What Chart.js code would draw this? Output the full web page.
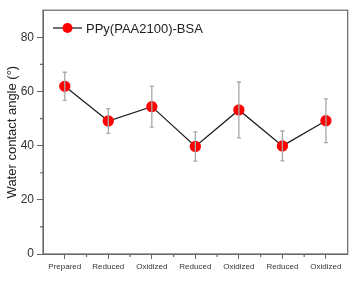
<!DOCTYPE html>
<html>
<head>
<meta charset="utf-8">
<script src="https://cdn.jsdelivr.net/npm/chart.js@4"></script>
<style>
  html, body { margin: 0; padding: 0; background: #fff; }
  #wrap { width: 354px; height: 281px; }
</style>
</head>
<body>
<div id="wrap"><canvas id="chart" width="354" height="281"></canvas></div>
<script>
const states = ['Prepared', 'Reduced', 'Oxidized', 'Reduced', 'Oxidized', 'Reduced', 'Oxidized'];
const angles = [61.9, 49.1, 54.4, 39.7, 53.2, 39.9, 49.2];
const errors = [5.2, 4.6, 7.6, 5.4, 10.3, 5.5, 8.1];
const seriesName = 'PPy(PAA2100)-BSA';
const yTicks = [0, 20, 40, 60, 80];

const FONT = '"Liberation Sans", Arial, sans-serif';

// error bars + frame + minor ticks + legend
const extras = {
    id: 'extras',
    afterDatasetsDraw(chart) {
        const ctx = chart.ctx;
        const x = chart.scales.x, y = chart.scales.y;
        ctx.save();
        ctx.strokeStyle = '#a8a8a8';
        ctx.lineWidth = 1.3;
        angles.forEach((v, i) => {
            const px = x.getPixelForValue(i);
            const top = y.getPixelForValue(v + errors[i]);
            const bot = y.getPixelForValue(v - errors[i]);
            ctx.beginPath();
            ctx.moveTo(px, top); ctx.lineTo(px, bot);
            ctx.moveTo(px - 2, top); ctx.lineTo(px + 2, top);
            ctx.moveTo(px - 2, bot); ctx.lineTo(px + 2, bot);
            ctx.stroke();
        });
        ctx.restore();
    },
    afterDraw(chart) {
        const ctx = chart.ctx;
        const a = chart.chartArea;
        const x = chart.scales.x, y = chart.scales.y;
        ctx.save();
        // frame
        ctx.strokeStyle = '#666';
        ctx.lineWidth = 1.2;
        ctx.strokeRect(a.left, a.top, a.right - a.left, a.bottom - a.top);
        // minor ticks
        ctx.beginPath();
        for (let v = 10; v < 90; v += 20) {
            const py = y.getPixelForValue(v);
            ctx.moveTo(a.left, py); ctx.lineTo(a.left - 3, py);
        }
        for (let i = 0; i < states.length - 1; i++) {
            const px = (x.getPixelForValue(i) + x.getPixelForValue(i + 1)) / 2;
            ctx.moveTo(px, a.bottom); ctx.lineTo(px, a.bottom + 3);
        }
        ctx.stroke();
        // legend
        const ly = 28, lx = 53;
        ctx.strokeStyle = '#222';
        ctx.lineWidth = 1.3;
        ctx.beginPath();
        ctx.moveTo(lx, ly); ctx.lineTo(lx + 29, ly);
        ctx.stroke();
        ctx.fillStyle = '#ff0000';
        ctx.beginPath();
        ctx.arc(lx + 14.5, ly, 5, 0, Math.PI * 2);
        ctx.fill();
        ctx.fillStyle = '#222';
        ctx.font = '13px ' + FONT;
        ctx.textBaseline = 'middle';
        ctx.fillText(seriesName, lx + 33, ly + 1);
        ctx.restore();
    }
};

new Chart(document.getElementById('chart'), {
    type: 'line',
    data: {
        labels: states,
        datasets: [{
            label: seriesName,
            data: angles,
            borderColor: '#222',
            borderWidth: 1.3,
            pointBackgroundColor: '#ff0000',
            pointBorderColor: '#ff0000',
            pointRadius: 5,
            tension: 0
        }]
    },
    options: {
        responsive: false,
        animation: false,
        layout: { padding: { left: 0, right: 4, top: 7, bottom: 0 } },
        plugins: { legend: { display: false }, tooltip: { enabled: false } },
        scales: {
            x: {
                offset: true,
                grid: { drawOnChartArea: false, tickLength: 5, color: '#666', offset: false },
                border: { color: '#666' },
                ticks: { color: '#333', font: { family: FONT, size: 8 }, padding: 3, maxRotation: 0, autoSkip: false },
                afterFit(s) { s.height = 27; }
            },
            y: {
                min: 0,
                max: 90,
                grid: { drawOnChartArea: false, tickLength: 6, color: '#666' },
                border: { color: '#666' },
                ticks: { color: '#333', font: { family: FONT, size: 12 }, padding: 3, stepSize: 20 },
                afterBuildTicks(s) { s.ticks = yTicks.map(v => ({ value: v })); },
                title: { display: true, text: 'Water contact angle (°)', color: '#222', font: { family: FONT, size: 13 }, padding: { top: 5, bottom: 0 } },
                afterFit(s) { s.width = 43; }
            }
        }
    },
    plugins: [extras]
});
</script>
</body>
</html>
